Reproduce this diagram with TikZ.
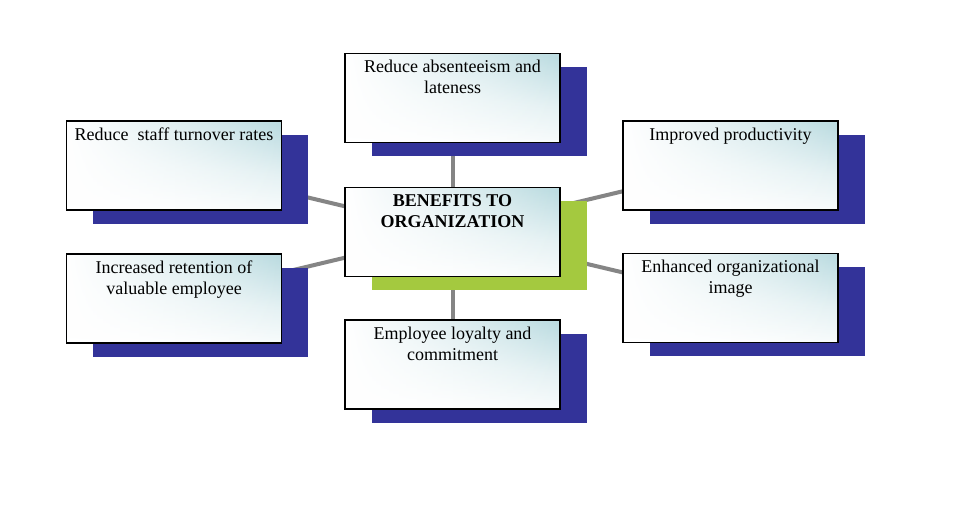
\documentclass[tikz,border=0pt]{standalone}
\usepackage{fontspec}
\setmainfont{Liberation Serif}
\usetikzlibrary{backgrounds,fadings}
\pgfdeclarelayer{bottomlayer}
\pgfsetlayers{bottomlayer,background,main}
\definecolor{shadowblue}{HTML}{333399}
\definecolor{shadowgreen}{HTML}{A4C93F}
\definecolor{boxteal}{HTML}{BCDCE1}
\definecolor{linkgray}{HTML}{858585}
\tikzset{
  x=1pt, y=-1pt,
  benefitbox/.style={rectangle, draw=black, line width=1.4pt, inner sep=0pt,
    minimum width=215pt, minimum height=89pt,
    shade, shading=axis, top color=boxteal, bottom color=white, middle color=boxteal!40!white, shading angle=-5,
    path picture={\fill[white, path fading=east]
      (path picture bounding box.south west) rectangle (path picture bounding box.north east);},
    font=\fontsize{18}{21}\selectfont},
  shadowbox/.style={rectangle, draw=none, inner sep=0pt,
    minimum width=215pt, minimum height=89pt, fill=#1},
  link/.style={draw=linkgray, line width=4pt}
}
\newcommand{\boxtext}[1]{\parbox[t][80pt][t]{212pt}{\centering\strut #1}}
\begin{document}
\begin{tikzpicture}
\begin{pgfonlayer}{bottomlayer}
\fill[white] (0,0) rectangle (968,514);
\end{pgfonlayer}
\useasboundingbox (0,0) rectangle (968,514);
% shadows
\node[shadowbox=shadowblue] (tops) at (479,111.5) {};
\node[shadowbox=shadowblue] (tls) at (200.5,179) {};
\node[shadowbox=shadowblue] (trs) at (757,179) {};
\node[shadowbox=shadowgreen] (cs) at (479,245.5) {};
\node[shadowbox=shadowblue] (bls) at (200.5,312) {};
\node[shadowbox=shadowblue] (brs) at (757,311.5) {};
\node[shadowbox=shadowblue] (bots) at (479,378) {};
% boxes
\node[benefitbox] (top) at (452.5,98) {\boxtext{Reduce absenteeism and\\lateness}};
\node[benefitbox] (tl) at (174,165.5) {\boxtext{Reduce\ \ staff turnover rates}};
\node[benefitbox] (tr) at (730.5,165.5) {\boxtext{Improved productivity}};
\node[benefitbox] (c) at (452.5,232) {\boxtext{\textbf{BENEFITS TO\\ORGANIZATION}}};
\node[benefitbox] (bl) at (174,298.5) {\boxtext{Increased retention of\\valuable employee}};
\node[benefitbox] (br) at (730.5,298) {\boxtext{Enhanced organizational\\image}};
\node[benefitbox] (bot) at (452.5,364.5) {\boxtext{Employee loyalty and\\commitment}};
% connectors
\begin{pgfonlayer}{background}
\draw[link] (c.center) -- (top.center);
\draw[link] (c.center) -- (tl.center);
\draw[link] (c.center) -- (tr.center);
\draw[link] (c.center) -- (bl.center);
\draw[link] (c.center) -- (br.center);
\draw[link] (c.center) -- (bot.center);
\end{pgfonlayer}
\end{tikzpicture}
\end{document}
